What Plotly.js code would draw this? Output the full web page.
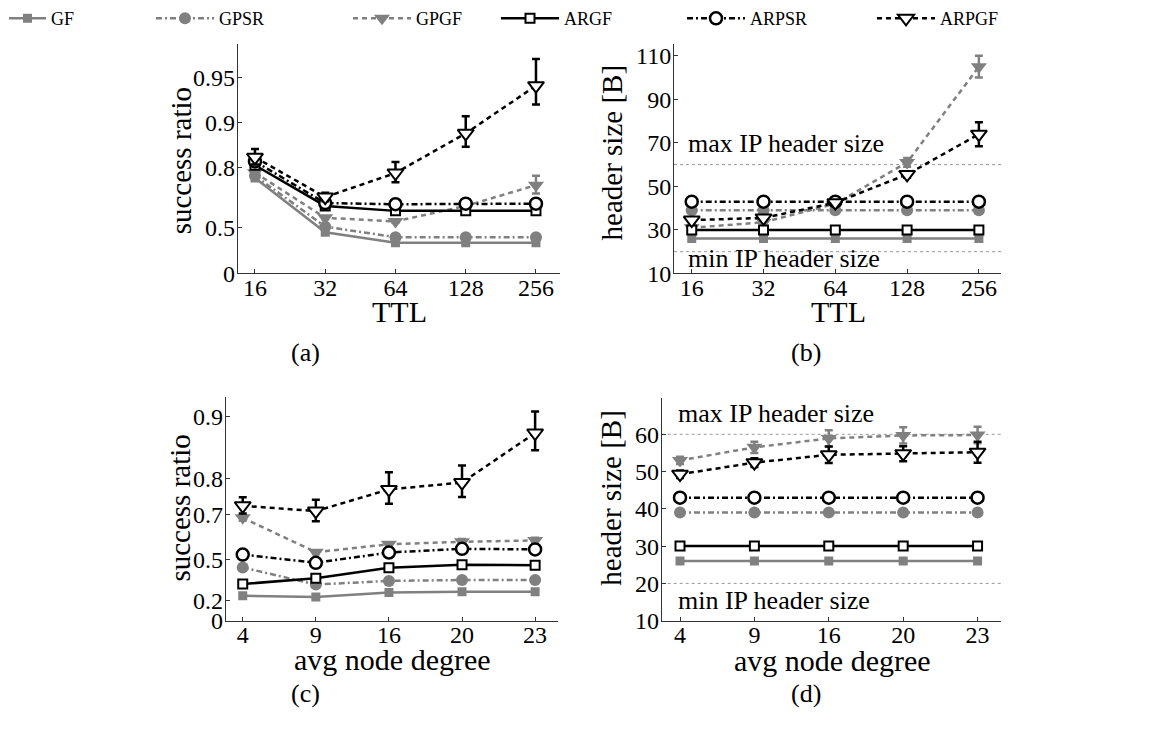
<!DOCTYPE html>
<html>
<head>
<meta charset="utf-8">
<script src="https://cdn.plot.ly/plotly-3.0.1.min.js"></script>
<style>html,body{margin:0;padding:0;background:#fff;}#chart{width:1168px;height:747px;}</style>
</head>
<body>
<div id="chart"></div>
<script>
// ---------------- data ----------------
const ttl = ['16', '32', '64', '128', '256'];
const degree = ['4', '9', '16', '20', '23'];

// (a) success ratio vs TTL
const GF_a    = [0.767, 0.466, 0.373, 0.373, 0.373];
const GPSR_a  = [0.775, 0.510, 0.425, 0.425, 0.425];
const GPGF_a  = [0.785, 0.572, 0.548, 0.643, 0.740];
const ARGF_a  = [0.808, 0.643, 0.615, 0.615, 0.615];
const ARPSR_a = [0.819, 0.658, 0.652, 0.655, 0.655];
const ARPGF_a = [0.830, 0.688, 0.784, 0.882, 0.943];
const GPGF_a_err  = [0.010, 0.010, 0.010, 0.015, 0.035];
const ARPGF_a_err = [0.020, 0.020, 0.033, 0.027, 0.019];

// (b) header size vs TTL
const GF_b    = [26, 26, 26, 26, 26];
const GPSR_b  = [39, 39, 39, 39, 39];
const GPGF_b  = [31, 33.5, 42, 61, 105];
const ARGF_b  = [30, 30, 30, 30, 30];
const ARPSR_b = [43, 43, 43, 43, 43];
const ARPGF_b = [34.5, 35.5, 42.5, 55.5, 74];
const GPGF_b_err  = [0.5, 0.5, 1, 2, 5];
const ARPGF_b_err = [1, 1, 1, 1.5, 5.5];

// (c) success ratio vs avg node degree
const GF_c    = [0.245, 0.235, 0.272, 0.279, 0.279];
const GPSR_c  = [0.452, 0.335, 0.362, 0.368, 0.368];
const GPGF_c  = [0.687, 0.539, 0.578, 0.590, 0.596];
const ARGF_c  = [0.339, 0.381, 0.450, 0.469, 0.466];
const ARPSR_c = [0.526, 0.480, 0.537, 0.556, 0.553];
const ARPGF_c = [0.727, 0.710, 0.773, 0.790, 0.880];
const GPGF_c_err  = [0.010, 0.010, 0.010, 0.012, 0.012];
const ARPGF_c_err = [0.025, 0.035, 0.040, 0.037, 0.026];

// (d) header size vs avg node degree
const GF_d    = [26, 26, 26, 26, 26];
const GPSR_d  = [39, 39, 39, 39, 39];
const GPGF_d  = [53, 56.5, 58.9, 59.7, 59.8];
const ARGF_d  = [30, 30, 30, 30, 30];
const ARPSR_d = [43, 43, 43, 43, 43];
const ARPGF_d = [49.3, 52.4, 54.5, 54.8, 55.2];
const GPGF_d_err  = [1, 1.5, 2.2, 2.2, 2.2];
const ARPGF_d_err = [1, 1.2, 2.2, 2, 2.8];

const ratioTicksA = [0, 0.5, 0.8, 0.9, 0.95];
const ratioTicksC = [0, 0.2, 0.5, 0.7, 0.8, 0.9];
const headerTicksB = [10, 30, 50, 70, 90, 110];
const headerTicksD = [10, 20, 30, 40, 50, 60];
const maxIP = 60, minIP = 20;
const seriesNames = ['GF', 'GPSR', 'GPGF', 'ARGF', 'ARPSR', 'ARPGF'];
const panelLabels = ['(a)', '(b)', '(c)', '(d)'];
const xTitles = ['TTL', 'TTL', 'avg node degree', 'avg node degree'];
const yTitles = ['success ratio', 'header size [B]', 'success ratio', 'header size [B]'];

// ---------------- helpers ----------------
const W = 1168, H = 747;
const T = v => -Math.log10(1 - v);   // success-ratio axis scale
const idx = [0, 1, 2, 3, 4];
const GRAY = '#808080', BLACK = '#000000';
const FONT = 'Liberation Serif, Times New Roman, serif';

const styles = {
  GF:    {line: {color: GRAY, width: 2.5, dash: 'solid'}, marker: {symbol: 'square', size: 9, color: GRAY, line: {width: 0}}},
  GPSR:  {line: {color: GRAY, width: 2.5, dash: '6px,3px,2px,3px'}, marker: {symbol: 'circle', size: 12, color: GRAY, line: {width: 0}}},
  GPGF:  {line: {color: GRAY, width: 2.5, dash: '5px,4px'}, marker: {symbol: 'triangle-down', size: 14, color: GRAY, line: {width: 0}}},
  ARGF:  {line: {color: BLACK, width: 2.5, dash: 'solid'}, marker: {symbol: 'square', size: 9, color: '#ffffff', line: {color: BLACK, width: 2}}},
  ARPSR: {line: {color: BLACK, width: 2.5, dash: '6px,3px,2px,3px'}, marker: {symbol: 'circle', size: 12, color: '#ffffff', line: {color: BLACK, width: 2.5}}},
  ARPGF: {line: {color: BLACK, width: 2.5, dash: '5px,4px'}, marker: {symbol: 'triangle-down', size: 14, color: '#ffffff', line: {color: BLACK, width: 2}}}
};

function errBars(y, e, color, ratio) {
  const up = y.map((v, i) => ratio ? T(v + e[i]) - T(v) : e[i]);
  const dn = y.map((v, i) => ratio ? T(v) - T(v - e[i]) : e[i]);
  return {type: 'data', symmetric: false, array: up, arrayminus: dn, color: color, thickness: 2.5, width: 4};
}

const traces = [];
const legendIds = ['legend', 'legend2', 'legend3', 'legend4', 'legend5', 'legend6'];
function addPanel(data, errs, xa, ya, ratio, legendOn) {
  seriesNames.forEach((name, k) => {
    const y = data[k];
    const s = styles[name];
    const tr = {
      type: 'scatter', mode: 'lines+markers', name: name,
      x: idx, y: ratio ? y.map(T) : y,
      xaxis: xa, yaxis: ya,
      line: s.line, marker: s.marker,
      showlegend: legendOn, legend: legendIds[k],
      hoverinfo: 'skip'
    };
    if (errs[name]) tr.error_y = errBars(y, errs[name], s.line.color, ratio);
    traces.push(tr);
  });
}
addPanel([GF_a, GPSR_a, GPGF_a, ARGF_a, ARPSR_a, ARPGF_a], {GPGF: GPGF_a_err, ARPGF: ARPGF_a_err}, 'x', 'y', true, true);
addPanel([GF_b, GPSR_b, GPGF_b, ARGF_b, ARPSR_b, ARPGF_b], {GPGF: GPGF_b_err, ARPGF: ARPGF_b_err}, 'x2', 'y2', false, false);
addPanel([GF_c, GPSR_c, GPGF_c, ARGF_c, ARPSR_c, ARPGF_c], {GPGF: GPGF_c_err, ARPGF: ARPGF_c_err}, 'x3', 'y3', true, false);
addPanel([GF_d, GPSR_d, GPGF_d, ARGF_d, ARPSR_d, ARPGF_d], {GPGF: GPGF_d_err, ARPGF: ARPGF_d_err}, 'x4', 'y4', false, false);

// pixel boxes of the four plot areas: [left, right, top, bottom]
const boxes = [
  [237.7, 560, 36, 268.3],
  [674, 1001, 36.7, 268.3],
  [225.7, 558, 393.3, 619.3],
  [661.7, 1001, 394, 619.3]
];
const xdom = b => [b[0] / W, b[1] / W];
const ydom = b => [1 - b[3] / H, 1 - b[2] / H];

const tickFont = {family: FONT, size: 24, color: '#000'};
function xAxis(b, labels, range, anchor) {
  return {
    domain: xdom(b), anchor: anchor, range: range,
    tickmode: 'array', tickvals: idx, ticktext: labels,
    ticks: 'inside', ticklen: 4, tickcolor: '#333', tickwidth: 1,
    showline: true, linecolor: '#333', linewidth: 1, mirror: false,
    showgrid: false, zeroline: false, tickfont: tickFont, ticklabelstandoff: -7,
    automargin: false, fixedrange: true
  };
}
function yAxis(b, range, tv, tt, anchor) {
  return {
    domain: ydom(b), anchor: anchor, range: range,
    tickmode: 'array', tickvals: tv, ticktext: tt,
    ticks: 'inside', ticklen: 4, tickcolor: '#333', tickwidth: 1,
    showline: true, linecolor: '#333', linewidth: 1, mirror: false,
    showgrid: false, zeroline: false, tickfont: tickFont, ticklabelstandoff: -3,
    automargin: false, fixedrange: true
  };
}

// text positions (pixels)
const xTitlePos = [[399, 307], [838, 307], [392, 659], [832, 660]];
const yTitlePos = [[181, 155], [612, 146], [180, 506], [611, 495]];
const panelLabelPos = [[305, 348], [806, 348], [305, 693], [806, 693]];

const annotations = [];
for (let k = 0; k < 4; k++) {
  annotations.push({text: panelLabels[k], xref: 'paper', yref: 'paper', x: panelLabelPos[k][0] / W, y: 1 - panelLabelPos[k][1] / H,
    xanchor: 'center', yanchor: 'middle', showarrow: false, font: {family: FONT, size: 26, color: '#000'}});
  annotations.push({text: xTitles[k], xref: 'paper', yref: 'paper', x: xTitlePos[k][0] / W, y: 1 - xTitlePos[k][1] / H,
    xanchor: 'center', yanchor: 'middle', showarrow: false, font: {family: FONT, size: 30, color: '#000'}});
  annotations.push({text: yTitles[k], xref: 'paper', yref: 'paper', x: yTitlePos[k][0] / W, y: 1 - yTitlePos[k][1] / H,
    xanchor: 'center', yanchor: 'middle', textangle: -90, showarrow: false, font: {family: FONT, size: 29, color: '#000'}});
}
annotations.push(
  {text: 'max IP header size', xref: 'x2 domain', yref: 'y2', x: 0.037, y: 69.5, xanchor: 'left', showarrow: false, font: {family: FONT, size: 26}},
  {text: 'min IP header size', xref: 'x2 domain', yref: 'y2', x: 0.037, y: 16.8, xanchor: 'left', showarrow: false, font: {family: FONT, size: 26}},
  {text: 'max IP header size', xref: 'x4 domain', yref: 'y4', x: 0.042, y: 65.6, xanchor: 'left', showarrow: false, font: {family: FONT, size: 26}},
  {text: 'min IP header size', xref: 'x4 domain', yref: 'y4', x: 0.042, y: 15.4, xanchor: 'left', showarrow: false, font: {family: FONT, size: 26}}
);

const dotted = {color: '#999', width: 1, dash: 'dot'};
const layout = {
  width: W, height: H,
  margin: {l: 0, r: 0, t: 0, b: 0},
  paper_bgcolor: '#fff', plot_bgcolor: '#fff',
  font: {family: FONT, color: '#000'},
  xaxis:  xAxis(boxes[0], ttl, [-0.246, 4.342], 'y'),
  yaxis:  yAxis(boxes[0], [0, T(0.97)], ratioTicksA.map(T), ratioTicksA.map(String), 'x'),
  xaxis2: xAxis(boxes[1], ttl, [-0.247, 4.308], 'y2'),
  yaxis2: yAxis(boxes[1], [10, 115.3], headerTicksB, headerTicksB.map(String), 'x2'),
  xaxis3: xAxis(boxes[2], degree, [-0.233, 4.313], 'y3'),
  yaxis3: yAxis(boxes[2], [0, 1.097], ratioTicksC.map(T), ratioTicksC.map(String), 'x3'),
  xaxis4: xAxis(boxes[3], degree, [-0.246, 4.315], 'y4'),
  yaxis4: yAxis(boxes[3], [10, 69.8], headerTicksD, headerTicksD.map(String), 'x4'),
  shapes: [
    {type: 'line', xref: 'x2 domain', yref: 'y2', x0: 0, x1: 1, y0: maxIP, y1: maxIP, line: dotted, layer: 'below'},
    {type: 'line', xref: 'x2 domain', yref: 'y2', x0: 0, x1: 1, y0: minIP, y1: minIP, line: dotted, layer: 'below'},
    {type: 'line', xref: 'x4 domain', yref: 'y4', x0: 0, x1: 1, y0: maxIP, y1: maxIP, line: dotted, layer: 'below'},
    {type: 'line', xref: 'x4 domain', yref: 'y4', x0: 0, x1: 1, y0: minIP, y1: minIP, line: dotted, layer: 'below'}
  ],
  annotations: annotations
};
const legendLeft = [4, 151, 348, 496, 682, 872];
const legendItemW = [37, 58, 58, 58, 58, 58];
legendIds.forEach((id, k) => {
  layout[id] = {
    x: legendLeft[k] / W, y: 1 + 8 / H, xanchor: 'left', yanchor: 'top',
    orientation: 'h', bgcolor: 'rgba(0,0,0,0)', borderwidth: 0,
    font: {family: FONT, size: 18, color: '#000'}, itemwidth: legendItemW[k]
  };
});

Plotly.newPlot('chart', traces, layout, {staticPlot: true, displayModeBar: false});
</script>
</body>
</html>
